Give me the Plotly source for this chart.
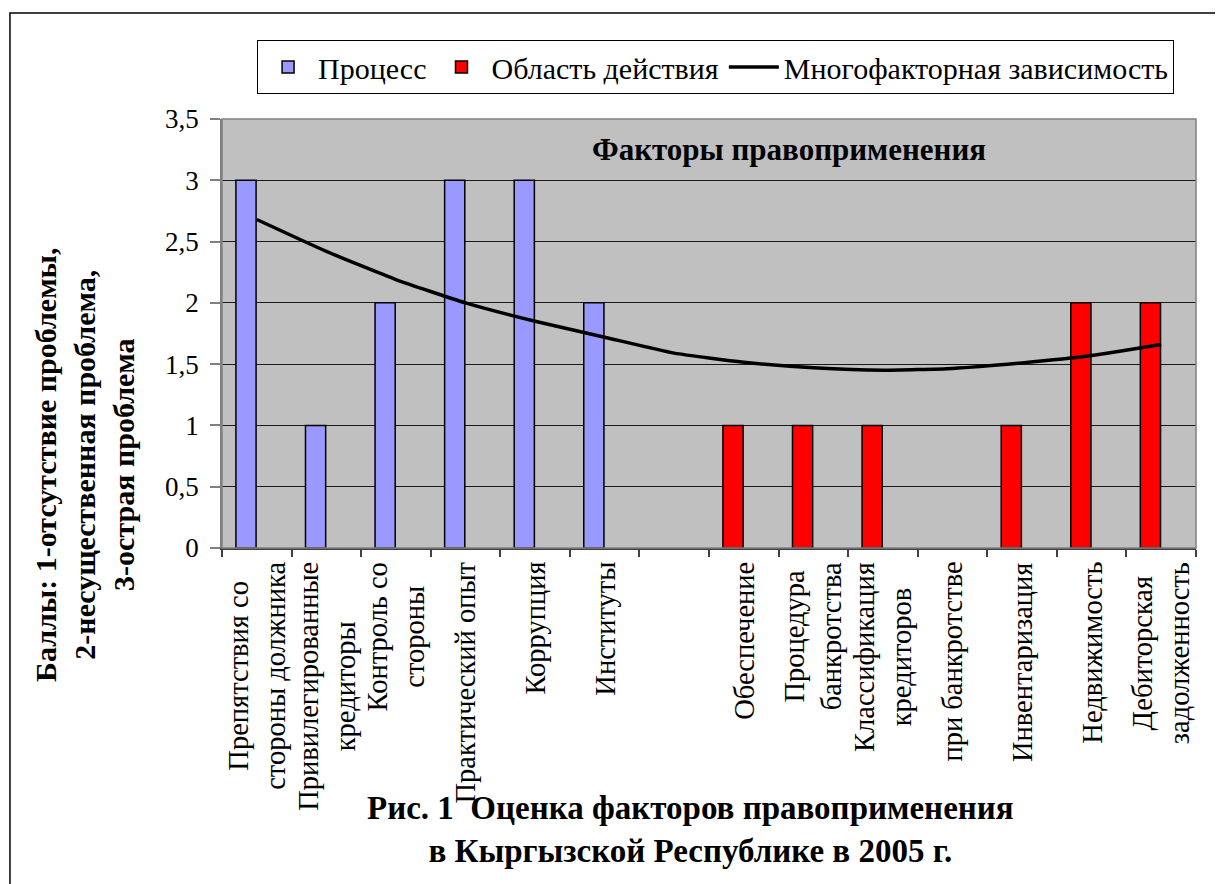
import plotly.graph_objects as go

categories = [
    "Препятствия со<br>стороны должника",
    "Привилегированные<br>кредиторы",
    "Контроль со<br>стороны",
    "Практический опыт",
    "Коррупция",
    "Институты",
    "",
    "Обеспечение",
    "Процедура<br>банкротства",
    "Классификация<br>кредиторов",
    "при банкротстве",
    "Инвентаризация",
    "Недвижимость",
    "Дебиторская<br>задолженность",
]
process_values = [3, 1, 2, 3, 3, 2, None, None, None, None, None, None, None, None]
scope_values = [None, None, None, None, None, None, None, 1, 1, 1, None, 1, 2, 2]
trend_values = [2.68, 2.42, 2.19, 2.00, 1.85, 1.72, 1.59, 1.515, 1.47, 1.45, 1.465, 1.51, 1.57, 1.66]
y_ticks = [0, 0.5, 1, 1.5, 2, 2.5, 3, 3.5]

series_names = ["Процесс", "Область действия", "Многофакторная зависимость"]
inner_title = "Факторы правоприменения"
y_title = "Баллы: 1-отсутствие проблемы,<br>2-несущественная проблема,<br>3-острая проблема"
fig_title = "Рис. 1\u00a0 Оценка факторов правоприменения<br>в Кыргызской Республике в 2005 г."

FONT = "Liberation Serif"
x_idx = list(range(len(categories)))

fig = go.Figure()
fig.add_trace(go.Bar(
    x=x_idx, y=process_values, name=series_names[0],
    marker=dict(color="#9999FF", line=dict(color="black", width=1.5)),
    width=0.29, offset=-0.30,
))
fig.add_trace(go.Bar(
    x=x_idx, y=scope_values, name=series_names[1],
    marker=dict(color="#FF0000", line=dict(color="black", width=1.5)),
    width=0.29, offset=-0.30,
))
fig.add_trace(go.Scatter(
    x=x_idx, y=trend_values, name=series_names[2], mode="lines",
    line=dict(color="black", width=3.5, shape="spline", smoothing=0.5),
))

annotations = []
for i, lab in enumerate(categories):
    if lab:
        annotations.append(dict(
            x=i, y=-0.028, xref="x", yref="paper", text=lab, textangle=-90,
            xanchor="center", yanchor="top", align="center", showarrow=False,
            font=dict(size=28.5, color="black", family=FONT),
        ))
annotations.append(dict(
    x=0.582, y=0.928, xref="paper", yref="paper", text="<b>" + inner_title + "</b>",
    showarrow=False, xanchor="center", yanchor="middle",
    font=dict(size=31, color="black", family=FONT),
))
annotations.append(dict(
    x=-0.1407, y=0.1935, xref="paper", yref="paper",
    text="<b>" + y_title.replace("<br>", "</b><br><b>") + "</b>",
    textangle=-90, showarrow=False, xanchor="center", yanchor="middle", align="center",
    font=dict(size=30, color="black", family=FONT),
))
annotations.append(dict(
    x=0.481, y=-0.657, xref="paper", yref="paper",
    text="<b>" + fig_title.replace("<br>", "</b><br><b>") + "</b>",
    showarrow=False, xanchor="center", yanchor="middle", align="center",
    font=dict(size=33, color="black", family=FONT),
))

fig.update_layout(
    width=1215, height=876,
    margin=dict(l=214, r=27, t=111, b=336),
    paper_bgcolor="white", plot_bgcolor="#C0C0C0",
    barmode="overlay",
    separators=", ",
    font=dict(family=FONT, color="black", size=27),
    showlegend=True,
    legend=dict(
        orientation="h", x=0.036, y=1.184, xanchor="left", yanchor="top",
        bgcolor="white", bordercolor="black", borderwidth=1,
        font=dict(size=30, family=FONT, color="black"),
        traceorder="normal", itemwidth=50,
    ),
    annotations=annotations,
    shapes=[
        dict(type="rect", xref="paper", yref="paper", x0=0, x1=1, y0=0, y1=1,
             line=dict(color="#808080", width=1.5), fillcolor="rgba(0,0,0,0)", layer="above"),
        dict(type="rect", xref="paper", yref="paper", x0=-0.2177, x1=1.2, y0=-1.2, y1=1.247,
             line=dict(color="black", width=1.5), fillcolor="rgba(0,0,0,0)", layer="below"),
    ],
)
fig.update_xaxes(
    range=[-0.5, len(categories) - 0.5],
    tickmode="array", tickvals=[k - 0.5 for k in range(len(categories) + 1)],
    ticks="outside", ticklen=7, tickcolor="#404040", tickwidth=1.5,
    showticklabels=False, showgrid=False, zeroline=False,
    showline=True, linecolor="#404040", linewidth=1.5,
)
fig.update_yaxes(
    range=[0, 3.5], tickmode="array", tickvals=y_ticks, tickformat=".1~f",
    ticks="outside", ticklen=10, tickcolor="#808080", tickwidth=1.5,
    ticklabelstandoff=6,
    showgrid=True, gridcolor="#1a1a1a", gridwidth=1, zeroline=False,
    showline=True, linecolor="#808080", linewidth=1.5,
    tickfont=dict(size=27, family=FONT, color="black"),
)

fig.write_html("out.html")
